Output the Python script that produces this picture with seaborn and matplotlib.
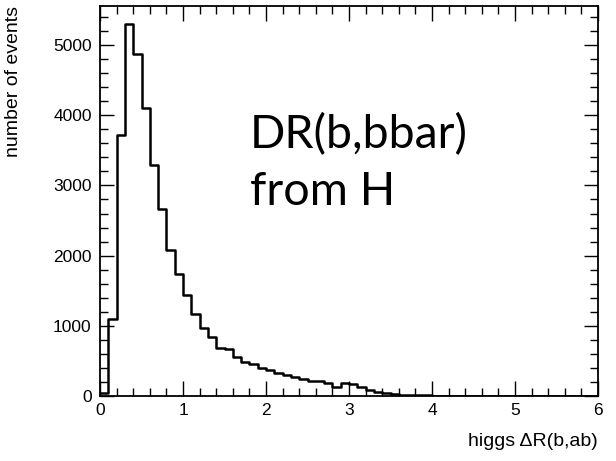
import numpy as np
import pandas as pd
import matplotlib
matplotlib.use("Agg")
import matplotlib.pyplot as plt
from matplotlib.ticker import MultipleLocator
import seaborn as sns

# Histogram of Delta R between b and anti-b from Higgs decays, 60 bins of 0.1
bin_edges = [round(0.1 * i, 1) for i in range(61)]
counts = [
    45, 1100, 3720, 5300, 4870, 4100, 3290, 2660, 2080, 1745,
    1440, 1170, 965, 840, 680, 665, 555, 480, 450, 405,
    365, 325, 295, 265, 240, 220, 218, 190, 135, 180,
    172, 130, 85, 50, 38, 28, 20, 14, 10, 8,
    7, 6, 5, 5, 4, 4, 3, 3, 3, 2,
    2, 2, 2, 1, 1, 1, 1, 1, 0, 0,
]
x_label = "higgs \u0394R(b,ab)"
y_label = "number of events"
note_lines = ["DR(b,bbar)", "from H"]

centers = [(bin_edges[i] + bin_edges[i + 1]) / 2 for i in range(len(counts))]
df = pd.DataFrame({"dr": centers, "n": counts})

sns.set_style("white")
plt.rcParams["font.family"] = ["Liberation Sans", "DejaVu Sans"]
plt.rcParams["text.color"] = "black"
plt.rcParams["axes.labelcolor"] = "black"
plt.rcParams["xtick.color"] = "black"
plt.rcParams["ytick.color"] = "black"

fig = plt.figure(figsize=(6.16, 4.61), dpi=100)
ax = fig.add_axes([100 / 616, 1 - 396 / 461, 498 / 616, 390 / 461])

sns.histplot(data=df, x="dr", weights="n", bins=bin_edges, element="step",
             fill=False, color="black", linewidth=1.8, ax=ax)

ax.set_xlim(0, 6)
ax.set_ylim(0, 5557)

for s in ax.spines.values():
    s.set_linewidth(1.3)
    s.set_color("black")

ax.xaxis.set_major_locator(MultipleLocator(1))
ax.xaxis.set_minor_locator(MultipleLocator(0.2))
ax.yaxis.set_major_locator(MultipleLocator(1000))
ax.yaxis.set_minor_locator(MultipleLocator(200))
ax.tick_params(which="both", direction="in", top=True, right=True,
               bottom=True, left=True, color="black", labelcolor="black",
               width=1.0)
ax.tick_params(which="major", length=11, labelsize=12.5, pad=5)
ax.tick_params(which="minor", length=5.5)
ax.tick_params(axis="y", which="major", length=10, pad=6)

ax.set_xlabel(x_label, fontsize=14, loc="right")
ax.xaxis.set_label_coords(1.0, -0.095)
ax.set_ylabel(y_label, fontsize=14, loc="top")
ax.yaxis.set_label_coords(-0.157, 1.0)

ax.text(0.301, 0.636, note_lines[0], transform=ax.transAxes, color="black",
        fontsize=33.5, family=["Lato", "DejaVu Sans"], va="baseline", ha="left")
ax.text(0.301, 0.49, note_lines[1], transform=ax.transAxes, color="black",
        fontsize=33.5, family=["Lato", "DejaVu Sans"], va="baseline", ha="left")

fig.savefig("out.png", dpi=100)
